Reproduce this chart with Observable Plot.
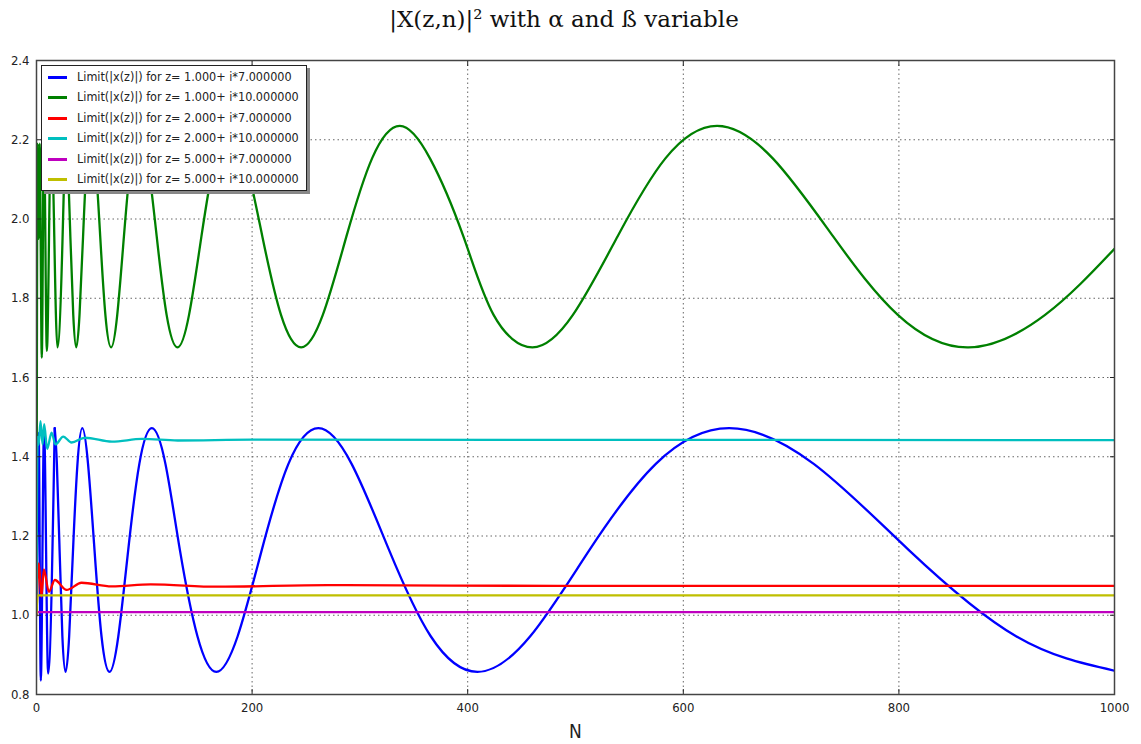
<!DOCTYPE html>
<html><head><meta charset="utf-8">
<script src="https://cdn.jsdelivr.net/npm/d3@7"></script>
<script src="https://cdn.jsdelivr.net/npm/@observablehq/plot@0.6"></script>
<style>
body{margin:0;background:#fff;}
#wrap{position:relative;width:1141px;height:744px;overflow:hidden;}
#title{position:absolute;left:0;top:0;width:1128px;text-align:center;font-family:"DejaVu Serif",serif;font-size:23px;line-height:38px;color:#111;}
#chart{position:absolute;left:0;top:40px;}
#legend{position:absolute;left:41px;top:65px;width:264px;height:124px;background:#fff;border:1px solid #222;box-shadow:3px 3px 0 #888;font-family:"DejaVu Sans Condensed","DejaVu Sans",sans-serif;font-stretch:condensed;font-size:12.5px;color:#222;}
.row{position:absolute;left:0;height:20px;line-height:20px;white-space:nowrap;}
.sw{position:absolute;left:6px;top:9px;width:19px;height:3px;}
.lb{position:absolute;left:35px;top:0;}
</style></head><body>
<div id="wrap"><div id="title"></div><div id="chart"></div><div id="legend"></div></div>
<script>
// ---- data ----
const titleText = "|X(z,n)|\u00B2 with \u03B1 and \u00DF variable";
const seriesNames = [
  "Limit(|x(z)|) for z= 1.000+ i*7.000000",
  "Limit(|x(z)|) for z= 1.000+ i*10.000000",
  "Limit(|x(z)|) for z= 2.000+ i*7.000000",
  "Limit(|x(z)|) for z= 2.000+ i*10.000000",
  "Limit(|x(z)|) for z= 5.000+ i*7.000000",
  "Limit(|x(z)|) for z= 5.000+ i*10.000000"
];
const seriesColors = ["#0000ff", "#008000", "#ff0000", "#00bfbf", "#bf00bf", "#bfbf00"];

// [N, value] pairs (peaks, troughs and points along the slopes)
const blue = [[0,1.0],[1,1.3],[2,1.46],[4,0.835],[7,1.47],[10.8,0.853],[16.9,1.472],[18.9,1.382],[21.4,1.165],[24.0,0.947],[27,0.857],[30.3,0.947],[33.9,1.165],[38.0,1.382],[42.5,1.472],[47.8,1.382],[53.8,1.165],[60.3,0.947],[67.7,0.857],[75.9,0.947],[85.1,1.165],[95.4,1.382],[107,1.472],[119.6,1.382],[133,1.165],[149.3,0.947],[166.8,0.857],[186.6,0.947],[209,1.165],[233.7,1.382],[261.5,1.472],[292.3,1.382],[327,1.165],[365.7,0.947],[409,0.857],[458,0.947],[513,1.165],[574.5,1.382],[642.6,1.472],[721,1.382],[809,1.165],[908.7,0.947],[1000,0.86]];
const green = [[0,1.0],[1,2.19],[2,1.95],[3,2.19],[4.9,1.65],[6.9,2.22],[9.6,1.667],[13.6,2.235],[19.4,1.676],[26.8,2.235],[29.0,2.153],[31.4,1.956],[34.1,1.758],[36.9,1.676],[39.9,1.758],[43.2,1.956],[46.7,2.153],[50.5,2.235],[54.6,2.153],[59.1,1.956],[63.9,1.758],[69.2,1.676],[74.9,1.758],[81.1,1.956],[87.8,2.153],[95,2.235],[102.9,2.153],[111.5,1.956],[120.7,1.758],[130.8,1.676],[141.5,1.758],[153,1.956],[165.5,2.153],[179,2.235],[193.6,2.153],[209.5,1.956],[226.8,1.758],[245.5,1.676],[265.6,1.758],[287.5,1.956],[311.3,2.153],[337,2.235],[365,2.153],[396,1.956],[424,1.758],[460,1.676],[497.6,1.758],[539,1.956],[583.4,2.153],[631.3,2.235],[683,2.153],[739,1.956],[799,1.758],[864.7,1.676],[935.6,1.758],[1000,1.925]];
const red = [[0,1.0],[2.2,1.131],[4.6,1.047],[6.8,1.116],[11.5,1.059],[17,1.089],[27.9,1.064],[41.8,1.082],[69.7,1.073],[106,1.078],[168,1.072],[270,1.076],[500,1.074],[1000,1.074]];
const cyan = [[0,1.0],[1,1.45],[2,1.43],[3.7,1.49],[5.6,1.431],[7.1,1.482],[9.9,1.42],[14,1.461],[17.6,1.431],[24.8,1.451],[32.5,1.436],[45,1.448],[70,1.438],[98,1.445],[131,1.441],[200,1.443],[1000,1.442]];
const magenta = [[0,1.0],[1,1.008],[1000,1.008]];
const yellow = [[0,1.0],[1,1.05],[1000,1.05]];

// N from which the evenly sampled part of each oscillating curve starts
const smoothFrom = [16.9, 26.8, Infinity, Infinity, Infinity, Infinity];

const xTicks = [0, 200, 400, 600, 800, 1000];
const yTicks = [0.8, 1.0, 1.2, 1.4, 1.6, 1.8, 2.0, 2.2, 2.4];
const xGrid = [200, 400, 600, 800];
const yGrid = [1.0, 1.2, 1.4, 1.6, 1.8, 2.0, 2.2];

// ---- build ----
const allSeries = [blue, green, red, cyan, magenta, yellow];
const rows = allSeries.flatMap((s, i) => s.map(([n, v]) => ({n, v, k: i})));

document.getElementById("title").textContent = titleText;

const font = '"DejaVu Sans Condensed","DejaVu Sans",sans-serif';
const gridStyle = {stroke: "#666", strokeOpacity: 1, strokeDasharray: "1.5,3"};

const lineMarks = allSeries.flatMap((s, i) => {
  const own = rows.filter(r => r.k === i);
  const early = own.filter(r => r.n <= smoothFrom[i]);
  const late = own.filter(r => r.n >= smoothFrom[i]);
  const opts = {x: "n", y: "v", stroke: seriesColors[i], strokeWidth: 2.3, clip: true};
  const marks = [Plot.line(early, {...opts, curve: "monotone-x"})];
  if (late.length > 1) marks.push(Plot.line(late, {...opts, curve: "natural"}));
  return marks;
});

const chart = Plot.plot({
  width: 1141, height: 704,
  marginTop: 20, marginBottom: 50, marginLeft: 36, marginRight: 27,
  x: {domain: [0, 1000]},
  y: {domain: [0.8, 2.4]},
  style: {fontFamily: font, fontSize: "13px", color: "#222", background: "white", fontStretch: "condensed"},
  marks: [
    Plot.gridX(xGrid, gridStyle),
    Plot.gridY(yGrid, gridStyle),
    ...lineMarks,
    Plot.axisX(xTicks, {anchor: "bottom", tickSize: 0, tickPadding: 8, tickFormat: d => String(d), label: null}),
    Plot.axisY(yTicks, {anchor: "left", tickSize: 0, tickPadding: 7, tickFormat: d3.format(".1f"), label: null}),
    Plot.axisX(xTicks, {anchor: "bottom", tickSize: 5, dy: -5, tickFormat: () => "", label: null}),
    Plot.axisX(xTicks, {anchor: "top", tickSize: 5, dy: 5, tickFormat: () => "", label: null}),
    Plot.axisY(yTicks, {anchor: "left", tickSize: 5, dx: 5, tickFormat: () => "", label: null}),
    Plot.axisY(yTicks, {anchor: "right", tickSize: 5, dx: -5, tickFormat: () => "", label: null}),
    Plot.axisX([], {anchor: "bottom", label: "N", labelAnchor: "center", labelArrow: "none", labelOffset: 43, fontSize: 19, fontFamily: "DejaVu Sans"}),
    Plot.frame({stroke: "#444", strokeWidth: 1.5})
  ]
});
document.getElementById("chart").appendChild(chart);

// legend overlay
const leg = document.getElementById("legend");
seriesNames.forEach((name, i) => {
  const row = document.createElement("div");
  row.className = "row";
  row.style.top = (0.7 + 20.5 * i) + "px";
  row.style.width = "100%";
  const sw = document.createElement("div");
  sw.className = "sw";
  sw.style.background = seriesColors[i];
  const lb = document.createElement("div");
  lb.className = "lb";
  lb.textContent = name;
  row.appendChild(sw); row.appendChild(lb);
  leg.appendChild(row);
});
</script></body></html>
